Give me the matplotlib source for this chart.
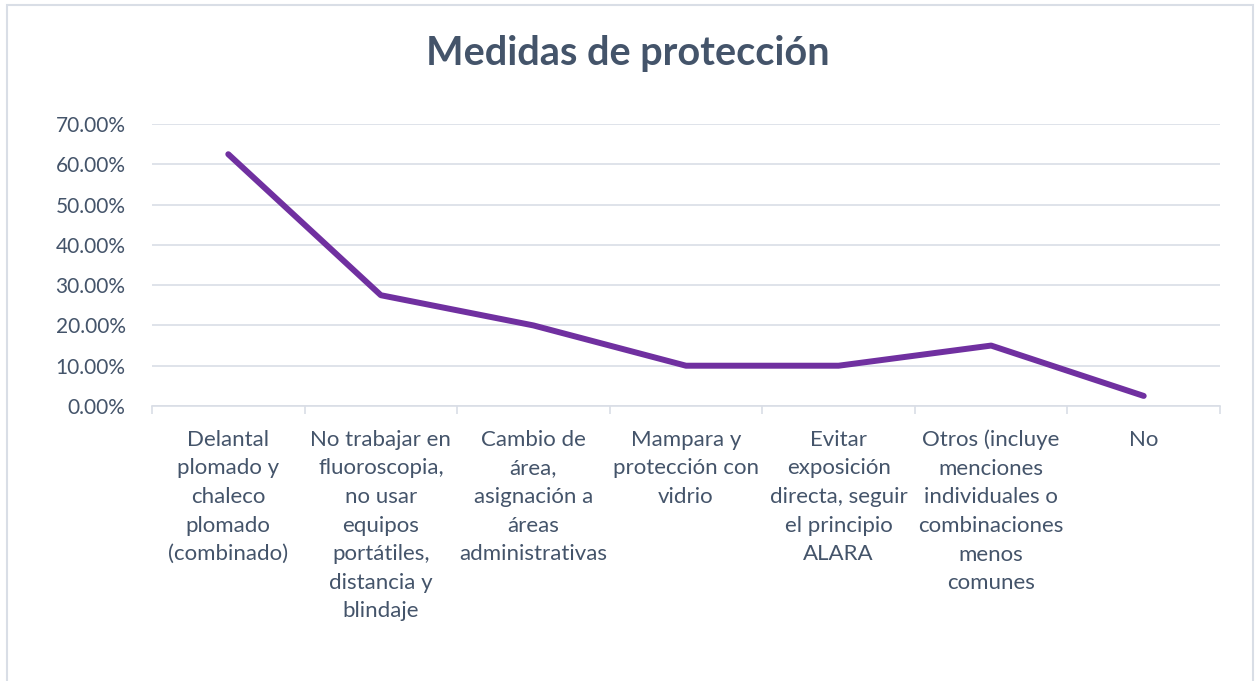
import numpy as np
import matplotlib.pyplot as plt
from matplotlib.patches import Rectangle
from matplotlib.ticker import FuncFormatter, FixedLocator

categories = [
    "Delantal\nplomado y\nchaleco\nplomado\n(combinado)",
    "No trabajar en\nfluoroscopia,\nno usar\nequipos\nportátiles,\ndistancia y\nblindaje",
    "Cambio de\nárea,\nasignación a\náreas\nadministrativas",
    "Mampara y\nprotección con\nvidrio",
    "Evitar\nexposición\ndirecta, seguir\nel principio\nALARA",
    "Otros (incluye\nmenciones\nindividuales o\ncombinaciones\nmenos\ncomunes",
    "No",
]
values = [0.625, 0.275, 0.20, 0.10, 0.10, 0.15, 0.025]
yticks = [0.0, 0.1, 0.2, 0.3, 0.4, 0.5, 0.6, 0.7]

text_color = "#44546A"
grid_color = "#D9DEE6"

plt.rcParams['font.family'] = ['Lato', 'DejaVu Sans']

fig = plt.figure(figsize=(12.56, 6.81), dpi=100)
ax = fig.add_axes([152 / 1256, 1 - 406 / 681, (1220 - 152) / 1256, (406 - 124) / 681])

x = np.arange(len(categories))
ax.plot(x, values, color="#7030A0", linewidth=4.3, solid_capstyle="round",
        solid_joinstyle="round", zorder=3)

ax.set_xlim(-0.5, len(categories) - 0.5)
ax.set_ylim(0, 0.7)
ax.set_yticks(yticks)
ax.yaxis.set_major_formatter(FuncFormatter(lambda v, p: f"{v * 100:.2f}%"))
ax.grid(axis="y", color=grid_color, linewidth=1.2)
ax.set_axisbelow(True)

ax.set_xticks(x)
ax.set_xticklabels(categories, linespacing=1.54, va="top")
ax.xaxis.set_minor_locator(FixedLocator(np.arange(-0.5, len(categories), 1.0)))
ax.tick_params(axis="x", which="major", length=0, pad=17, labelsize=16, colors=text_color)
ax.tick_params(axis="x", which="minor", length=6, width=1.2, color=grid_color)
ax.tick_params(axis="y", length=0, pad=19, labelsize=15, colors=text_color)

for side in ["top", "right", "left"]:
    ax.spines[side].set_visible(False)
ax.spines["bottom"].set_color(grid_color)
ax.spines["bottom"].set_linewidth(1.2)

fig.text(0.5, 1 - 53 / 681, "Medidas de protección", ha="center", va="center",
         fontsize=28.5, fontweight="bold", color=text_color)

border = Rectangle((7 / 1256, -0.05), (1253 - 7) / 1256, 1 - 5 / 681 + 0.05,
                   transform=fig.transFigure, fill=False, edgecolor=grid_color,
                   linewidth=1.5)
fig.patches.append(border)

fig.savefig("out.png", dpi=100, facecolor="white")
